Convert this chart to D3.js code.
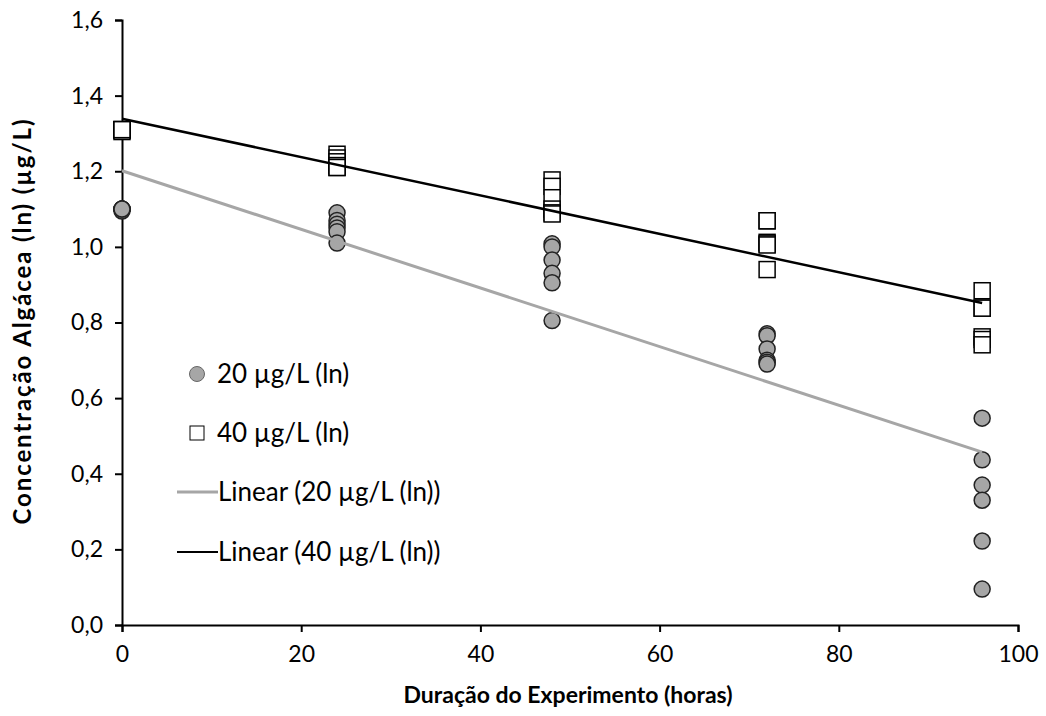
<!DOCTYPE html>
<html lang="pt">
<head>
<meta charset="utf-8">
<title>Concentração Algácea</title>
<script src="https://cdn.jsdelivr.net/npm/d3@7"></script>
<style>
  body { margin: 0; background: #fff; }
  text { font-family: Lato, "Open Sans", sans-serif; }
</style>
</head>
<body>
<script>
// hours of experiment
var hours = [0, 24, 48, 72, 96];
// ln concentration, six replicates per time point
var conc20 = [
  [1.10, 1.10, 1.10, 1.095, 1.10, 1.10],
  [1.09, 1.07, 1.06, 1.05, 1.04, 1.01],
  [1.008, 1.0, 0.965, 0.93, 0.905, 0.805],
  [0.77, 0.765, 0.73, 0.70, 0.695, 0.69],
  [0.547, 0.437, 0.37, 0.33, 0.222, 0.095]
];
var conc40 = [
  [1.31, 1.31, 1.31, 1.305, 1.31, 1.31],
  [1.245, 1.235, 1.225, 1.215, 1.21, 1.21],
  [1.177, 1.16, 1.13, 1.10, 1.09, 1.087],
  [1.069, 1.069, 1.012, 1.008, 1.005, 0.94],
  [0.884, 0.838, 0.838, 0.762, 0.755, 0.741]
];
var xTicks = [0, 20, 40, 60, 80, 100];
var yTicks = [0, 0.2, 0.4, 0.6, 0.8, 1.0, 1.2, 1.4, 1.6];
var legendLabels = ["20 µg/L (ln)", "40 µg/L (ln)", "Linear (20 µg/L (ln))", "Linear (40 µg/L (ln))"];

var w = 1046, h = 716;
var mLeft = 122, mRight = 1018, mTop = 20, mBottom = 625;
var grey = "#a6a6a6";

var svg = d3.select("body").append("svg").attr("width", w).attr("height", h);

var x = d3.scaleLinear().domain([0, 100]).range([mLeft, mRight]);
var y = d3.scaleLinear().domain([0, 1.6]).range([mBottom, mTop]);
var fmt = function(d) { return d3.format(".1f")(d).replace(".", ","); };

// flatten into points
function points(series) {
  var pts = [];
  series.forEach(function(reps, i) {
    reps.forEach(function(v) { pts.push({x: hours[i], y: v}); });
  });
  return pts;
}
var pts20 = points(conc20), pts40 = points(conc40);

// least squares fit
function fit(pts) {
  var mx = d3.mean(pts, function(d) { return d.x; });
  var my = d3.mean(pts, function(d) { return d.y; });
  var num = d3.sum(pts, function(d) { return (d.x - mx) * (d.y - my); });
  var den = d3.sum(pts, function(d) { return (d.x - mx) * (d.x - mx); });
  var b = num / den;
  return function(t) { return my + b * (t - mx); };
}

// axes
var yAxis = svg.append("g").attr("transform", "translate(" + mLeft + ",0)")
  .call(d3.axisLeft(y).tickValues(yTicks).tickFormat(fmt).tickSize(7).tickPadding(12));
var xAxis = svg.append("g").attr("transform", "translate(0," + mBottom + ")")
  .call(d3.axisBottom(x).tickValues(xTicks).tickFormat(d3.format("d")).tickSize(7).tickPadding(14));
[yAxis, xAxis].forEach(function(g) {
  g.select(".domain").attr("stroke", "#000").attr("stroke-width", 2);
  g.selectAll(".tick line").attr("stroke", "#000").attr("stroke-width", 2);
  g.selectAll(".tick text").attr("font-size", "23px").attr("fill", "#000");
});

// markers
svg.append("g").selectAll("circle").data(pts20).enter().append("circle")
  .attr("cx", function(d) { return x(d.x); })
  .attr("cy", function(d) { return y(d.y); })
  .attr("r", 8)
  .attr("fill", grey).attr("stroke", "#222").attr("stroke-width", 1.5);

svg.append("g").selectAll("rect").data(pts40).enter().append("rect")
  .attr("x", function(d) { return x(d.x) - 8; })
  .attr("y", function(d) { return y(d.y) - 8; })
  .attr("width", 16).attr("height", 16)
  .attr("fill", "#fff").attr("stroke", "#000").attr("stroke-width", 1.5);

// trend lines
var f20 = fit(pts20), f40 = fit(pts40);
var line = d3.line().x(function(d) { return x(d); });
svg.append("path").datum([0, 96])
  .attr("d", line.y(function(d) { return y(f20(d)); }))
  .attr("fill", "none").attr("stroke", grey).attr("stroke-width", 3);
svg.append("path").datum([0, 96])
  .attr("d", line.y(function(d) { return y(f40(d)); }))
  .attr("fill", "none").attr("stroke", "#000").attr("stroke-width", 2.5);

// legend
var lg = svg.append("g");
var ly = [374, 433, 492, 552];
lg.append("circle").attr("cx", 197).attr("cy", ly[0]).attr("r", 7.5)
  .attr("fill", grey).attr("stroke", "#666").attr("stroke-width", 1);
lg.append("rect").attr("x", 190).attr("y", ly[1] - 7).attr("width", 14).attr("height", 14)
  .attr("fill", "#fff").attr("stroke", "#000").attr("stroke-width", 1);
lg.append("line").attr("x1", 177).attr("x2", 218).attr("y1", ly[2]).attr("y2", ly[2])
  .attr("stroke", grey).attr("stroke-width", 3);
lg.append("line").attr("x1", 177).attr("x2", 218).attr("y1", ly[3]).attr("y2", ly[3])
  .attr("stroke", "#000").attr("stroke-width", 2);
lg.selectAll("text").data(legendLabels).enter().append("text")
  .attr("x", function(d, i) { return i < 2 ? 217 : 218; })
  .attr("y", function(d, i) { return ly[i]; })
  .attr("dy", "0.35em")
  .attr("font-size", "26px")
  .text(function(d) { return d; });

// axis titles
svg.append("text")
  .attr("x", 568).attr("y", 703)
  .attr("text-anchor", "middle").attr("font-size", "23px").attr("font-weight", "bold")
  .text("Duração do Experimento (horas)");
svg.append("text")
  .attr("transform", "translate(31,322) rotate(-90)")
  .attr("text-anchor", "middle").attr("font-size", "24px").attr("font-weight", "bold")
  .attr("textLength", 405).attr("lengthAdjust", "spacing")
  .text("Concentração Algácea (ln) (µg/L)");
</script>
</body>
</html>
